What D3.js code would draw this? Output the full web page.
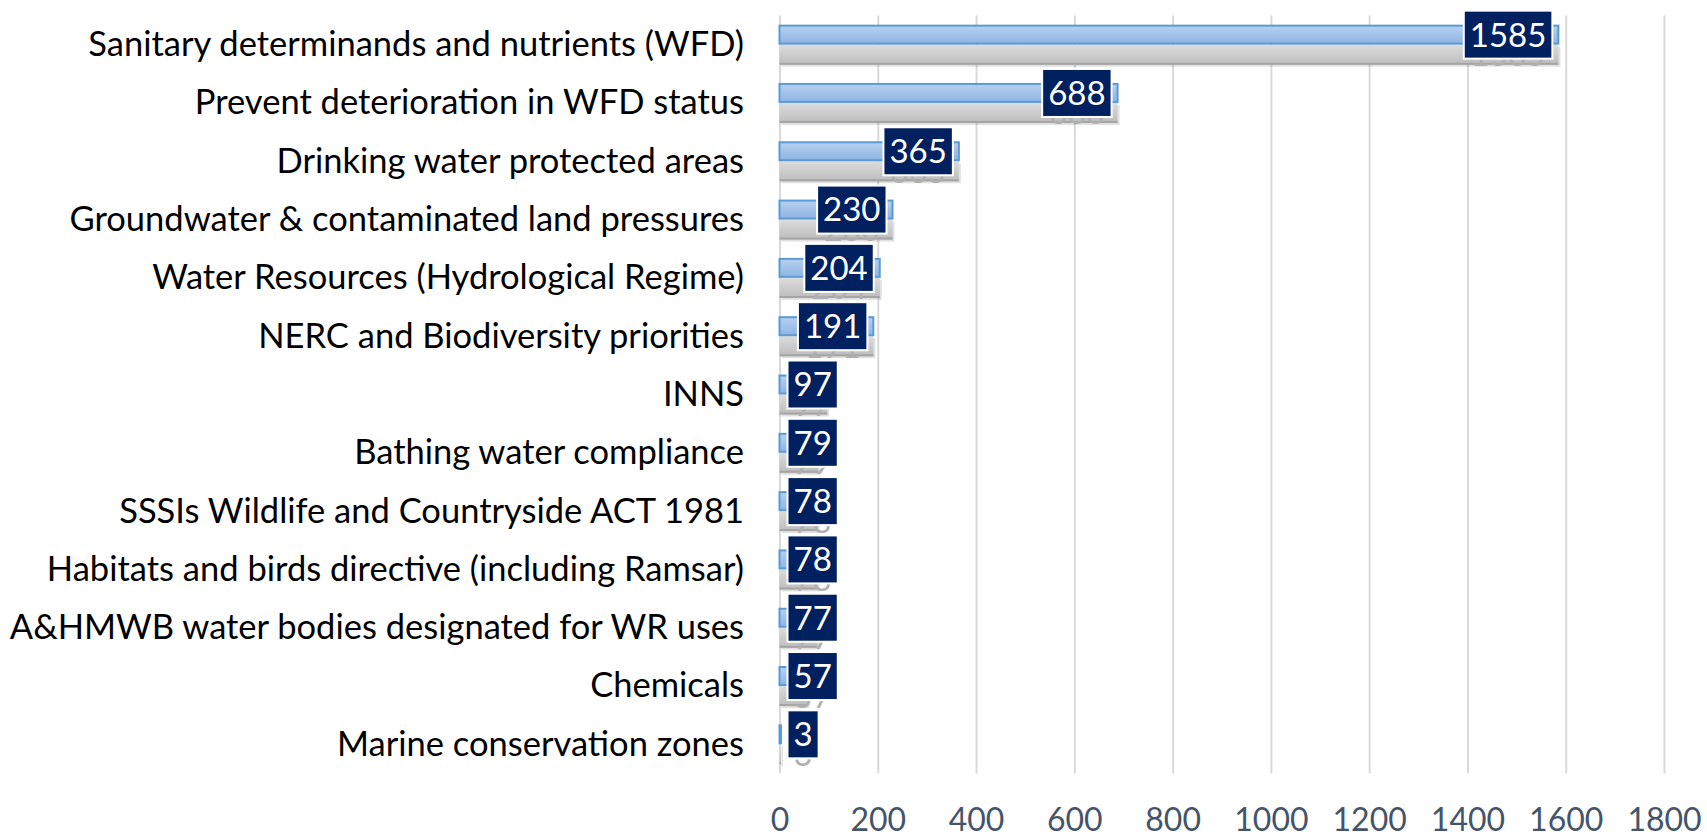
<!DOCTYPE html>
<html>
<head>
<meta charset="utf-8">
<script src="https://cdn.jsdelivr.net/npm/d3@7"></script>
<style>
  body { margin: 0; background: #fff; }
  svg { display: block; font-family: Lato, "Open Sans", sans-serif; }
</style>
</head>
<body>
<svg id="plotSvg"></svg>
<script>
var width = 1707;
var height = 835;

// data
var categories = [
  "Sanitary determinands and nutrients (WFD)",
  "Prevent deterioration in WFD status",
  "Drinking water protected areas",
  "Groundwater & contaminated land pressures",
  "Water Resources (Hydrological Regime)",
  "NERC and Biodiversity priorities",
  "INNS",
  "Bathing water compliance",
  "SSSIs Wildlife and Countryside ACT 1981",
  "Habitats and birds directive (including Ramsar)",
  "A&HMWB water bodies designated for WR uses",
  "Chemicals ",
  "Marine conservation zones"
];
var blueValues = [1585, 688, 365, 230, 204, 191, 97, 79, 78, 78, 77, 57, 3];
var greyValues = [1585, 688, 365, 230, 204, 191, 97, 79, 78, 78, 77, 57, 3];
var xTicks = [0, 200, 400, 600, 800, 1000, 1200, 1400, 1600, 1800];

var svg = d3.select("#plotSvg").attr("width", width).attr("height", height);

var x = d3.scaleLinear().domain([0, 1800]).range([779.5, 1664]);
var y = d3.scaleBand().domain(categories).range([15.5, 773.5])
  .paddingInner(0.314).paddingOuter(0.157);
var sub = d3.scaleBand().domain(["blue", "grey"]).range([0, y.bandwidth()]);

var rows = categories.map(function(c, i) {
  return { cat: c, blue: blueValues[i], grey: greyValues[i] };
});

// gradients
var defs = svg.append("defs");
var gb = defs.append("linearGradient").attr("id", "gBlue").attr("x1", 0).attr("y1", 0).attr("x2", 0).attr("y2", 1);
gb.append("stop").attr("offset", "0%").attr("stop-color", "#b7d0ef");
gb.append("stop").attr("offset", "100%").attr("stop-color", "#8fb4e3");
var gg = defs.append("linearGradient").attr("id", "gGrey").attr("x1", 0).attr("y1", 0).attr("x2", 0).attr("y2", 1);
gg.append("stop").attr("offset", "0%").attr("stop-color", "#dcdcdc");
gg.append("stop").attr("offset", "100%").attr("stop-color", "#bcbcbc");

// gridlines + tick labels
var xAxis = d3.axisBottom(x).tickValues(xTicks).tickFormat(d3.format("d"))
  .tickSize(-(773.5 - 15.5)).tickPadding(35);
var gx = svg.append("g")
  .attr("transform", "translate(0,773.5)")
  .call(xAxis);
gx.select(".domain").remove();
gx.selectAll(".tick line").attr("stroke", "#d9d9d9").attr("stroke-width", 2);
gx.selectAll(".tick text")
  .attr("fill", "#44546a")
  .attr("font-size", 32)
  .attr("font-family", "Lato, sans-serif");

// category labels
svg.append("g").selectAll("text")
  .data(categories)
  .enter().append("text")
  .attr("x", 744)
  .attr("y", function(d) { return y(d) + y.bandwidth() / 2; })
  .attr("dy", "0.33em")
  .attr("text-anchor", "end")
  .attr("font-size", 34.5)
  .attr("fill", "#000")
  .text(function(d) { return d; });

var bars = svg.append("g");

// grey series with a soft shadow
bars.selectAll("rect.shadow")
  .data(rows)
  .enter().append("rect")
  .attr("class", "shadow")
  .attr("x", x(0) + 2)
  .attr("y", function(d) { return y(d.cat) + sub("grey") + 2; })
  .attr("width", function(d) { return x(d.grey) - x(0); })
  .attr("height", sub.bandwidth())
  .attr("fill", "#000")
  .attr("opacity", 0.12);

bars.selectAll("rect.grey")
  .data(rows)
  .enter().append("rect")
  .attr("class", "grey")
  .attr("x", x(0))
  .attr("y", function(d) { return y(d.cat) + sub("grey"); })
  .attr("width", function(d) { return x(d.grey) - x(0); })
  .attr("height", sub.bandwidth())
  .attr("fill", "url(#gGrey)");

bars.selectAll("line.greyEdge")
  .data(rows)
  .enter().append("line")
  .attr("class", "greyEdge")
  .attr("x1", x(0))
  .attr("x2", function(d) { return x(d.grey); })
  .attr("y1", function(d) { return y(d.cat) + sub("grey") + sub.bandwidth() - 1; })
  .attr("y2", function(d) { return y(d.cat) + sub("grey") + sub.bandwidth() - 1; })
  .attr("stroke", "#a5a5a5")
  .attr("stroke-width", 2);

bars.selectAll("rect.blue")
  .data(rows)
  .enter().append("rect")
  .attr("class", "blue")
  .attr("x", x(0))
  .attr("y", function(d) { return y(d.cat) + sub("blue") + 1; })
  .attr("width", function(d) { return x(d.blue) - x(0); })
  .attr("height", sub.bandwidth() - 2)
  .attr("fill", "url(#gBlue)")
  .attr("stroke", "#5b9bd5")
  .attr("stroke-width", 2);

// data labels: place inside end, but never left of the axis
var labels = svg.append("g").selectAll("g")
  .data(rows)
  .enter().append("g");

// grey-series labels, mostly hidden behind the blue ones
labels.append("text")
  .attr("class", "ghost")
  .attr("y", function(d) { return y(d.cat) + sub("grey") + sub.bandwidth() / 2; })
  .attr("dy", "0.36em")
  .attr("text-anchor", "middle")
  .attr("font-size", 32)
  .attr("fill", "#b0b0b0")
  .text(function(d) { return d.grey; });

labels.append("rect").attr("class", "box");
labels.append("text")
  .attr("class", "val")
  .attr("y", function(d) { return y(d.cat) + sub("blue") + sub.bandwidth() / 2; })
  .attr("dy", "0.36em")
  .attr("text-anchor", "middle")
  .attr("font-size", 33)
  .attr("fill", "#fff")
  .text(function(d) { return d.blue; });

labels.each(function(d) {
  var g = d3.select(this);
  var tw = g.select("text.val").node().getComputedTextLength();
  var bw = tw + 12;
  var bh = 48;
  var right = x(d.blue) - 6;
  var left = Math.max(right - bw, x(0) + 8);
  var cx = left + bw / 2;
  var cy = y(d.cat) + sub("blue") + sub.bandwidth() / 2;
  g.select("text.val").attr("x", cx);
  g.select("text.ghost").attr("x", cx);
  g.select("rect.box")
    .attr("x", left)
    .attr("y", cy - bh / 2)
    .attr("width", bw)
    .attr("height", bh)
    .attr("fill", "#002060")
    .attr("stroke", "#fff")
    .attr("stroke-width", 2);
});
</script>
</body>
</html>
